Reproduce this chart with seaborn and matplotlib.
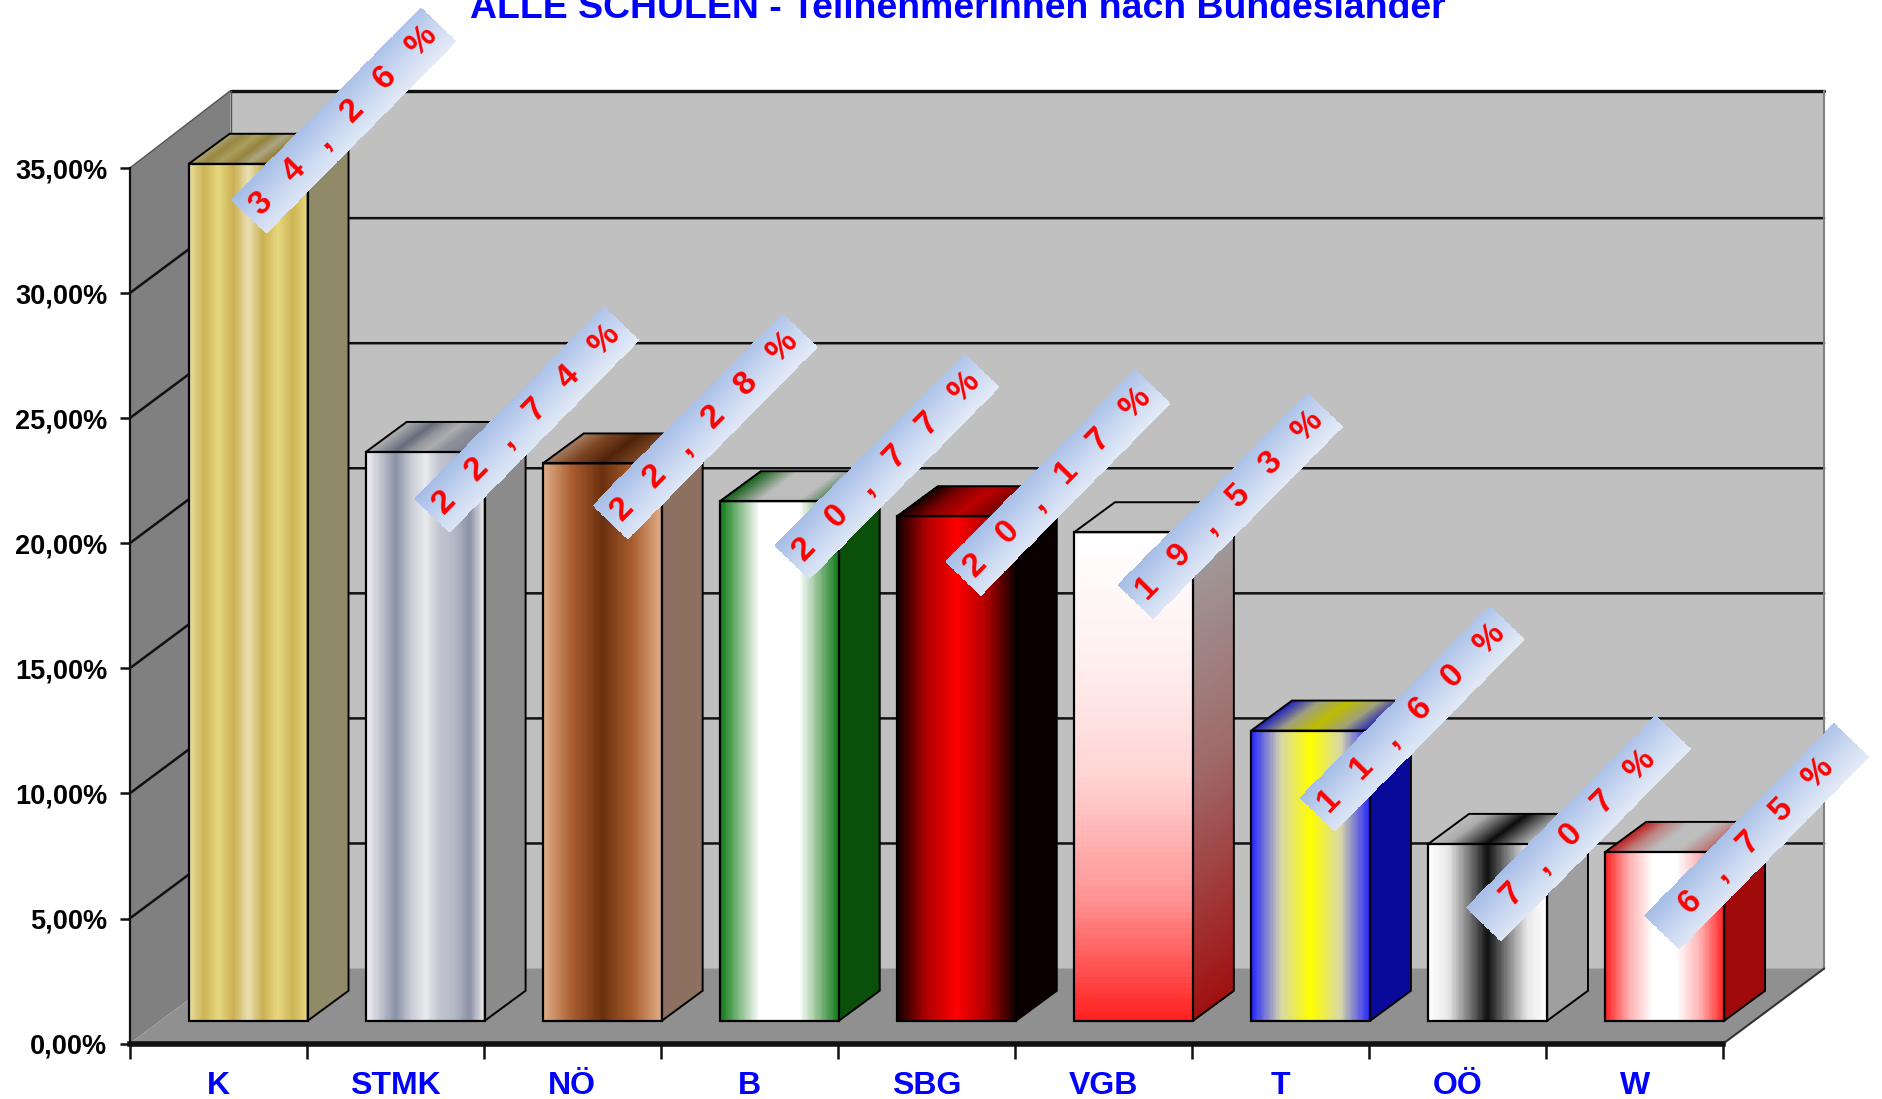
import numpy as np
import pandas as pd
import seaborn as sns
import matplotlib
matplotlib.use("Agg")
import matplotlib.pyplot as plt
from matplotlib.colors import LinearSegmentedColormap, to_rgb
from matplotlib.patches import Polygon
from matplotlib.ticker import FuncFormatter

# ---- data ----
regions = ["K", "STMK", "NÖ", "B", "SBG", "VGB", "T", "OÖ", "W"]
shares = [34.26, 22.74, 22.28, 20.77, 20.17, 19.53, 11.60, 7.07, 6.75]
y_ticks = [0, 5, 10, 15, 20, 25, 30, 35]
title = "ALLE SCHULEN - TeilnehmerInnen nach Bundesländer"

# ---- styles ----
face_stops = [
    ["#e9dea0", "#cdb456", "#e6d77f", "#cbb052", "#e9e0b4", "#cbb052", "#e6d77f", "#cdb456", "#e6d680"],
    ["#f2f2f4", "#c0c3ce", "#8a92a8", "#c6c9d2", "#e8eaec", "#c0c3cf", "#b4b8c6", "#8a90a6", "#eeeeee"],
    ["#dfae88", "#a85c2c", "#6a300e", "#a85c2c", "#dfae88"],
    ["#0f7a16", "#88bc8a", "#ffffff", "#ffffff", "#ffffff", "#88bc8a", "#0f7a16"],
    ["#120000", "#b00000", "#ff0000", "#b00000", "#120000"],
    ["#ffffff", "#fff0f0", "#ffd4d4", "#ff9494", "#ff2020"],
    ["#2424ff", "#d8d8a8", "#ffff00", "#d8d8a8", "#2424ff"],
    ["#ffffff", "#e8e8e8", "#808080", "#101010", "#808080", "#e8e8e8", "#ffffff"],
    ["#ff2020", "#ffb0b0", "#ffffff", "#ffffff", "#ffb0b0", "#ff2020"],
]
side_stops = ["#918a68", "#8c8c8c", "#8c7060", "#0a500a", "#0a0000",
              None, "#0a0a9a", "#9f9f9f", "#a00a0a"]
vertical_face = [False, False, False, False, False, True, False, False, False]
label_dx = [30, 35, 36, 40, 35, 31, 35, 26, 27]
label_dy = [-36, -27, -31, -29, -28, -22, -10, -13, -13]

sns.set_theme(style="white")
plt.rcParams["font.family"] = ["Liberation Sans", "DejaVu Sans"]

W, H = 1883, 1099
fig = plt.figure(figsize=(W / 100, H / 100), dpi=100, facecolor="white")
S = W / 1568
def rect(x0, x1, ybot, ytop):
    return [x0 * S / W, 1 - ybot * S / H, (x1 - x0) * S / W, (ybot - ytop) * S / H]

UX = (1435 - 108) / 9      # reference px per category
UY = (869 - 140) / 35      # reference px per percent point
DX, DY = 84 / UX, 62.5 / UY   # plot-box depth
BDX, BDY = 34 / UX, 25 / UY   # bar depth

# ---- front-plane axes: real axis, ticks, walls ----
ax = fig.add_axes(rect(108, 1435, 869, 140), zorder=1)
ax.set_xlim(-0.5, 8.5)
ax.set_ylim(0, 35)
ax.patch.set_visible(False)
XL, XR = -0.5, 8.5
TOP = 35.1
walls = [
    ([(XL + DX, DY), (XR + DX, DY), (XR + DX, TOP + DY), (XL + DX, TOP + DY)], "#c0c0c0"),
    ([(XL, 0), (XL, 35), (XL + DX, TOP + DY), (XL + DX, DY)], "#808080"),
    ([(XL, 0), (XR, 0), (XR + DX, DY), (XL + DX, DY)], "#909090"),
]
for pts, col in walls:
    ax.add_patch(Polygon(pts, closed=True, facecolor=col, edgecolor="none", clip_on=False, zorder=0.5))
for v in y_ticks[1:-1]:
    ax.plot([XL, XL + DX, XR + DX], [v, v + DY, v + DY], color="#111111", lw=1.8,
            clip_on=False, zorder=0.8, solid_joinstyle="miter")
ax.plot([XL + DX, XR + DX], [TOP + DY] * 2, color="#111111", lw=2.4, clip_on=False, zorder=0.8)
ax.plot([XL + DX, XL + DX], [DY, TOP + DY], color="#555555", lw=1, clip_on=False, zorder=0.8)
ax.plot([XR + DX, XR + DX], [DY, TOP + DY], color="#808080", lw=1.5, clip_on=False, zorder=0.8)
ax.plot([XL, XL + DX], [35, TOP + DY], color="#555555", lw=1, clip_on=False, zorder=0.8)
ax.plot([XR, XR + DX], [0, DY], color="#333333", lw=1.5, clip_on=False, zorder=0.8)

for side in ("top", "right"):
    ax.spines[side].set_visible(False)
ax.spines["left"].set_color("#111111")
ax.spines["left"].set_linewidth(1.6)
ax.spines["bottom"].set_color("#111111")
ax.spines["bottom"].set_linewidth(4)
ax.set_yticks(y_ticks)
ax.yaxis.set_major_formatter(FuncFormatter(lambda v, _: f"{v:.2f}".replace(".", ",") + "%"))
ax.set_xticks(np.arange(-0.5, 9.0, 1.0), minor=True)
ax.set_xticks(np.arange(9))
ax.set_xticklabels(regions)
ax.tick_params(axis="x", which="major", length=0, pad=20, labelsize=23, labelcolor="#0000ff")
ax.tick_params(axis="x", which="minor", length=11, width=1.8, color="#111111", bottom=True)
ax.tick_params(axis="y", which="major", length=7, width=1.8, color="#111111", left=True, pad=9,
               labelsize=19.5, labelcolor="black")
for t in ax.get_xticklabels() + ax.get_yticklabels():
    t.set_fontweight("bold")
ax.set_title(title, color="#0000ff", fontsize=26.9, fontweight="bold", y=(869 - 15) / (869 - 140),
             x=(798 - 108) / (1435 - 108), va="baseline", pad=0)

# ---- bar plane axes: same scales, shifted into the depth ----
ax_b = fig.add_axes(rect(108 + 25, 1435 + 25, 850, 850 - 35 * UY), zorder=2)
df = pd.DataFrame({"pos": np.arange(len(regions)), "region": regions, "share": shares})
palette = [tuple(np.mean([to_rgb(c) for c in st], axis=0)) for st in face_stops]
sns.barplot(data=df, x="pos", y="share", hue="region", hue_order=regions, native_scale=True, dodge=False,
            palette=palette, saturation=1, width=99 / UX, edgecolor="black", linewidth=1.6,
            legend=False, ax=ax_b)
ax_b.set_xlim(-0.5, 8.5)
ax_b.set_ylim(0, 35)
ax_b.set_axis_off()

def ramp(stops):
    return LinearSegmentedColormap.from_list("r", [to_rgb(c) for c in stops], N=256)

def mesh(a, p00, p10, p01, p11, fn, nu=80, nv=1, z=2.0):
    """Quad p00-p10 (u direction), p01-p11 (v direction); fn(u, v) -> rgb."""
    u = np.linspace(0, 1, nu + 1)
    v = np.linspace(0, 1, nv + 1)
    U, V = np.meshgrid(u, v)
    p00, p10, p01, p11 = map(np.array, (p00, p10, p01, p11))
    X = (1 - V) * ((1 - U) * p00[0] + U * p10[0]) + V * ((1 - U) * p01[0] + U * p11[0])
    Y = (1 - V) * ((1 - U) * p00[1] + U * p10[1]) + V * ((1 - U) * p01[1] + U * p11[1])
    uc, vc = np.meshgrid((u[:-1] + u[1:]) / 2, (v[:-1] + v[1:]) / 2)
    C = fn(uc, vc)
    a.pcolormesh(X, Y, C, shading="flat", clip_on=False, zorder=z, antialiased=False, edgecolors="none",
                 linewidth=0)
    a.set_xlim(-0.5, 8.5)
    a.set_ylim(0, 35)

bars = sorted([p for p in ax_b.patches], key=lambda p: p.get_x())
for i, p in enumerate(bars):
    x0, w, h = p.get_x(), p.get_width(), p.get_height()
    x1 = x0 + w
    cm = ramp(face_stops[i])
    if vertical_face[i]:
        mesh(ax_b, (x0, 0), (x1, 0), (x0, h), (x1, h),
             lambda u, v: cm(1 - v)[..., :3], nu=1, nv=90, z=2.0)
        top_fn = lambda u, v, c=cm: np.array(c(0.0)[:3]) * np.ones(u.shape + (3,)) * 0.75
    else:
        mesh(ax_b, (x0, 0), (x1, 0), (x0, h), (x1, h),
             lambda u, v: cm(u)[..., :3], nu=100, nv=1, z=2.0)
        top_fn = lambda u, v, c=cm: c(u)[..., :3] * 0.74
    # top face
    mesh(ax_b, (x0, h), (x1, h), (x0 + BDX, h + BDY), (x1 + BDX, h + BDY), top_fn, nu=80, nv=1, z=2.0)
    # side face
    if side_stops[i] is None:
        cs = ramp(["#a01010", "#a06868", "#a0a0a0"])
        mesh(ax_b, (x1, 0), (x1 + BDX, BDY), (x1, h), (x1 + BDX, h + BDY),
             lambda u, v: cs(v)[..., :3], nu=1, nv=90, z=2.0)
    else:
        ax_b.add_patch(Polygon([(x1, 0), (x1 + BDX, BDY), (x1 + BDX, h + BDY), (x1, h)],
                               facecolor=side_stops[i], edgecolor="none", clip_on=False, zorder=2.0))
    # outlines
    for pts in ([(x0, h), (x0 + BDX, h + BDY), (x1 + BDX, h + BDY), (x1, h)],
                [(x1, 0), (x1 + BDX, BDY), (x1 + BDX, h + BDY), (x1, h)]):
        ax_b.add_patch(Polygon(pts, facecolor="none", edgecolor="black", linewidth=1.4,
                               clip_on=False, zorder=2.5))
    p.set_facecolor("none")
    p.set_zorder(3)
    p.set_clip_on(False)

# ---- slanted value banners ----
LX, LY = 158 / UX, 160 / UY
SX, SY = 29 / UX, 28 / UY
band = ramp(["#a4bce6", "#c6d5f0", "#e4ebf7"])
for i, p in enumerate(bars):
    xr = p.get_x() + p.get_width()
    v = p.get_height()
    cx = xr + label_dx[i] / UX
    cy = v - label_dy[i] / UY
    q00 = (cx - LX / 2 - SX / 2, cy - LY / 2 + SY / 2)
    q10 = (cx - LX / 2 + SX / 2, cy - LY / 2 - SY / 2)
    q01 = (cx + LX / 2 - SX / 2, cy + LY / 2 + SY / 2)
    q11 = (cx + LX / 2 + SX / 2, cy + LY / 2 - SY / 2)
    mesh(ax_b, q00, q10, q01, q11, lambda u, w: band(0.85 * u + 0.15 * w)[..., :3], nu=40, nv=40, z=5)
    label = f"{shares[i]:.2f}".replace(".", ",") + "%"
    ax_b.text(cx, cy, "   ".join(label), rotation=45.4, rotation_mode="anchor",
              ha="center", va="center", color="#ff0000", fontsize=24, fontweight="bold",
              zorder=6, clip_on=False)

fig.savefig("out.png", dpi=100, facecolor="white")
